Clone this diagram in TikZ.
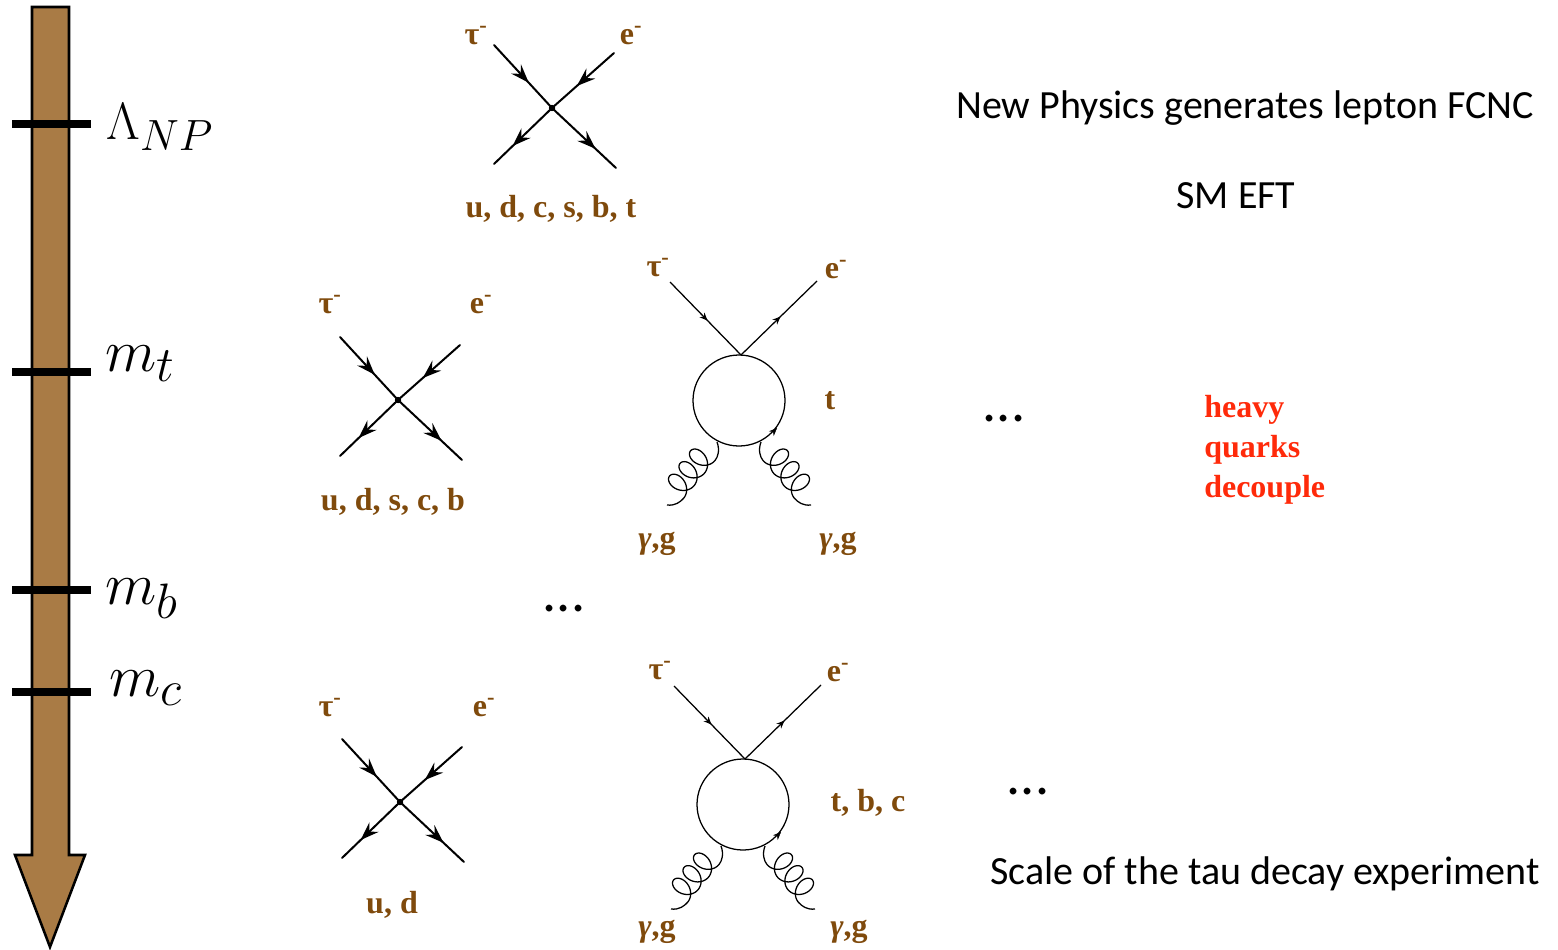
\documentclass[tikz,border=0pt]{standalone}
\usepackage{fontspec}
\setmainfont{Carlito}
\newfontfamily\timesb[Ligatures=TeX]{Liberation Serif}
\usetikzlibrary{decorations.markings,arrows.meta,calc}
\definecolor{shaft}{HTML}{A97B45}
\definecolor{lab}{HTML}{7F4A0C}
\definecolor{redt}{HTML}{FF2A0A}
\newcommand\gluonline[2]{%
  \begin{scope}[shift={(-2,0)},xscale=#1]
    \coordinate (-g#2s) at (-22,87);
    \coordinate (-g#2e) at (-72,150);
    \draw[thinleg,line join=round] (-g#2s) .. controls (-19,95) and (-21,102) .. (-24,105.5)
      -- plot[domain=-180:900,samples=144,smooth,variable=\t]
         ({-24-0.64*(2.6*(rad(\t)+pi)-10*sin(\t))-0.77*12.5*(1+cos(\t))},
          {105.5+0.77*(2.6*(rad(\t)+pi)-10*sin(\t))-0.64*12.5*(1+cos(\t))})
      .. controls (-58.6,147) and (-64,151) .. (-g#2e);
  \end{scope}%
}
\newcommand\gam{{\itshape γ}}
\tikzset{
  lab/.style={font=\timesb\bfseries\fontsize{24}{26}\selectfont,text=lab,inner sep=0pt,anchor=center},
  maintext/.style={font=\fontsize{30}{32}\selectfont,inner sep=0pt,anchor=center},
  dotstext/.style={font=\fontsize{42}{44}\selectfont,inner sep=0pt,anchor=center},
  scale label/.style={inner sep=0pt,anchor=west,font=\fontsize{24.88}{28}\selectfont,scale=#1},
  tick/.style={line width=6pt},
  thickleg/.style={line width=1.5pt,line cap=round},
  thinleg/.style={line width=0.95pt},
  arrA/.style={postaction={decorate},decoration={markings,mark=at position #1 with {\arrow{Stealth[length=14pt,width=10pt,inset=5pt]}}}},
  arrS/.style={postaction={decorate},decoration={markings,mark=at position #1 with {\arrow{Stealth[length=6pt,width=5pt]}}}},
  pics/crossd/.style={code={
    \coordinate (-v) at (0,0);
    \coordinate (-a) at (-58,-63);
    \coordinate (-b) at (62,-55);
    \coordinate (-c) at (-58,56);
    \coordinate (-d) at (64,60);
    \draw[thickleg,arrA=0.6] (-a) -- (-v);
    \draw[thickleg,arrA=0.6] (-b) -- (-v);
    \draw[thickleg,arrA=0.68] (-v) -- (-d);
    \draw[thickleg,arrA=0.68] (-v) -- (-c);
    \fill (-v) circle (2.4pt);
  }},
  pics/loopd/.style={code={
    \coordinate (-v) at (0,0);
    \coordinate (-a) at (-71,-73);
    \coordinate (-b) at (76,-74);
    \draw[thinleg,arrS=0.53] (-a) -- (-v);
    \draw[thinleg,arrS=0.52] (-v) -- (-b);
    \draw[thinleg] (-2,45.5) ellipse (46 and 45.5);
    \path[arrS=0.5] (32,77) -- (40,69);
    \gluonline{1}{L}
    \gluonline{-1}{R}
  }}
}
\begin{document}
\begin{tikzpicture}[x=0.75pt,y=-0.75pt]
\useasboundingbox (0,0) rectangle (1558,949);
% scale arrow
\draw[line width=1.9pt,fill=shaft,line join=miter] (32,7) -- (69,7) -- (69,855) -- (85,855) -- (50,947) -- (15,855) -- (32,855) -- cycle;
\draw[tick] (12,124) -- (91,124);
\draw[tick] (12,372) -- (91,372);
\draw[tick] (12,590) -- (91,590);
\draw[tick] (12,692) -- (91,692);
\node[scale label=1.58] (lnp) at (106,127) {$\Lambda_{NP}$};
\node[scale label=1.8] (lmt) at (105,364) {$m_t$};
\node[scale label=1.8] (lmb) at (105,599) {$m_b$};
\node[scale label=1.8] (lmc) at (109,688) {$m_c$};
% diagrams
\pic (c1) at (552,108) {crossd};
\pic (c2) at (398,400) {crossd};
\pic (c3) at (400,802) {crossd};
\pic (l1) at (741,355) {loopd};
\pic (l2) at (745,759) {loopd};
% labels
\node[lab] (t1) at (476,36) {τ\textsuperscript{-}};
\node[lab] (e1) at (631,36) {e\textsuperscript{-}};
\node[lab] (q1) at (551,209) {u, d, c, s, b, t};
\node[lab] (t2) at (330,305) {τ\textsuperscript{-}};
\node[lab] (e2) at (481,305) {e\textsuperscript{-}};
\node[lab] (q2) at (393,502) {u, d, s, c, b};
\node[lab] (t3) at (330,708) {τ\textsuperscript{-}};
\node[lab] (e3) at (484,708) {e\textsuperscript{-}};
\node[lab] (q3) at (392,905) {u, d};
\node[lab] (t4) at (658,268) {τ\textsuperscript{-}};
\node[lab] (e4) at (836,270) {e\textsuperscript{-}};
\node[lab] (q4) at (830,401) {t};
\node[lab] (g1) at (657,544) {\gam,g};
\node[lab] (g2) at (838,544) {\gam,g};
\node[lab] (t5) at (660,671) {τ\textsuperscript{-}};
\node[lab] (e5) at (838,673) {e\textsuperscript{-}};
\node[lab] (q5) at (868,803) {t, b, c};
\node[lab] (g3) at (657,932) {\gam,g};
\node[lab] (g4) at (849,932) {\gam,g};
% text
\node[maintext] (np) at (1245,108) {New Physics generates lepton FCNC};
\node[maintext] (sm) at (1236,196) {SM EFT};
\node[maintext] (sc) at (1265,874) {Scale of the tau decay experiment};
\node[dotstext] (d1) at (1004,419) {...};
\node[dotstext] (d2) at (564,609) {...};
\node[dotstext] (d3) at (1028,792) {...};
\node[lab,text=redt,anchor=west] (h1) at (1204,410) {heavy};
\node[lab,text=redt,anchor=west] (h2) at (1204,450) {quarks};
\node[lab,text=redt,anchor=west] (h3) at (1204,490) {decouple};
\end{tikzpicture}
\end{document}
